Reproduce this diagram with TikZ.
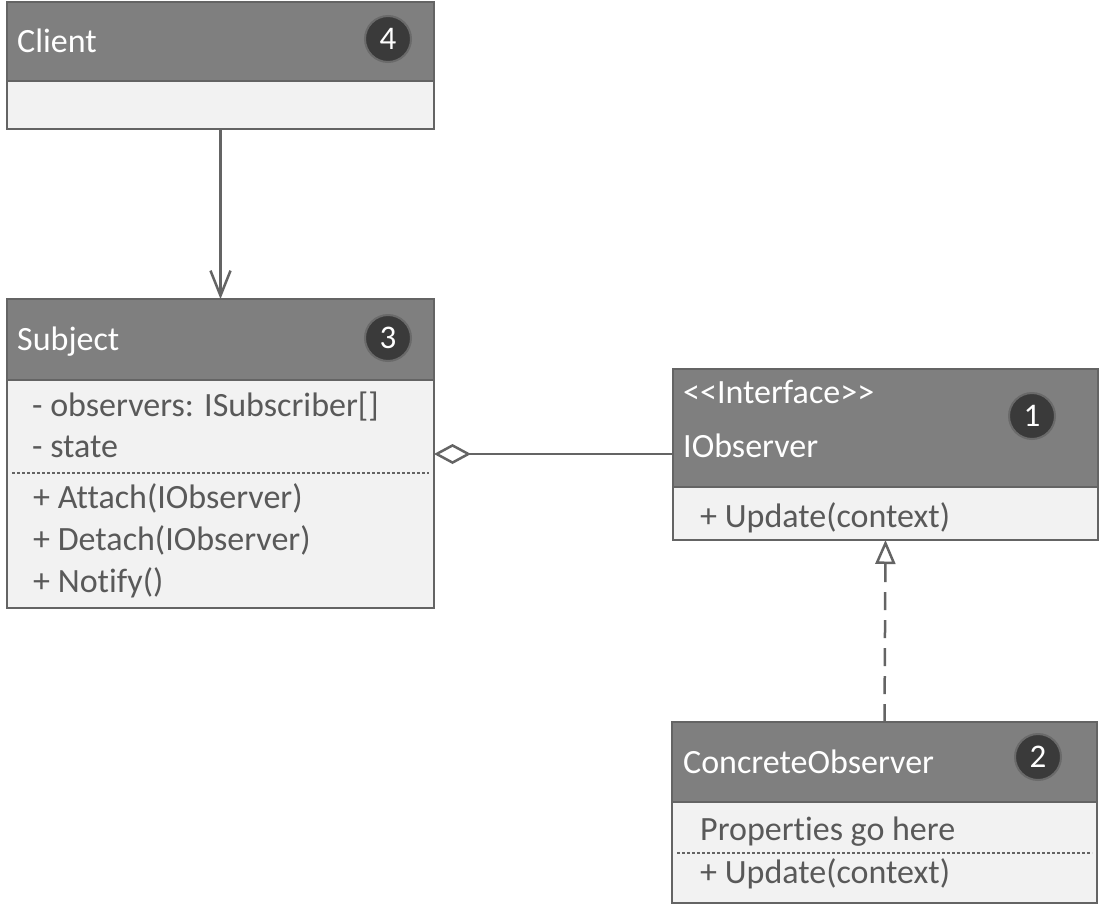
\documentclass[tikz,border=0pt]{standalone}
\usepackage{fontspec}
\setmainfont{Carlito}[Ligatures={NoCommon,NoRare,NoContextual}]
\usetikzlibrary{arrows.meta}
\definecolor{hdr}{HTML}{7F7F7F}
\definecolor{bodyc}{HTML}{F2F2F2}
\definecolor{bord}{HTML}{646464}
\definecolor{txt}{HTML}{595959}
\definecolor{badgec}{HTML}{3A3A3A}
\definecolor{ring}{HTML}{6A6A6A}
\tikzset{
  hdrbox/.style={draw=bord, fill=hdr, line width=2.5pt, anchor=north west, inner sep=0pt, outer sep=0pt},
  bodybox/.style={draw=bord, fill=bodyc, line width=2.5pt, anchor=north west, inner sep=0pt, outer sep=0pt},
  htext/.style={anchor=base west, text=white, font=\fontsize{34}{34}\selectfont, inner sep=0pt},
  btext/.style={anchor=base west, text=txt, font=\fontsize{34}{34}\selectfont, inner sep=0pt},
  badge/.style={circle, fill=badgec, draw=ring, line width=2pt, minimum size=46pt, inner sep=0pt, text=white, font=\fontsize{33}{33}\selectfont},
  sepline/.style={draw=bord, dash pattern=on 3pt off 2pt, line width=1.5pt},
  conn/.style={draw=bord, line width=2.5pt}
}
\begin{document}
\begin{tikzpicture}[x=1pt,y=-1pt]
\useasboundingbox[fill=white] (0,0) rectangle (1101,911);
% Client
\node[bodybox, minimum width=427pt, minimum height=48pt] (clientB) at (7,81) {};
\node[hdrbox, minimum width=427pt, minimum height=79pt] (clientH) at (7,2) {};
\node[htext] (clientT) at (17,52) {Client};
\node[badge] (b4) at (388,39) {4};
% Subject
\node[bodybox, minimum width=427pt, minimum height=228pt] (subjB) at (7,380) {};
\node[hdrbox, minimum width=427pt, minimum height=81pt] (subjH) at (7,299) {};
\node[htext] (subjT) at (17,350) {Subject};
\node[badge] (b3) at (388,338) {3};
\node[btext] (s1) at (32,416) {- observers: ISubscriber[]};
\node[btext] (s2) at (32,457) {- state};
\draw[sepline] ([xshift=5pt]subjB.west |- 0,473) -- ([xshift=-5pt]subjB.east |- 0,473);
\node[btext] (s3) at (33,508) {+ Attach(IObserver)};
\node[btext] (s4) at (33,550) {+ Detach(IObserver)};
\node[btext] (s5) at (33,592) {+ Notify()};
% IObserver
\node[bodybox, minimum width=425pt, minimum height=53pt] (iobsB) at (673,487) {};
\node[hdrbox, minimum width=425pt, minimum height=118pt] (iobsH) at (673,369) {};
\node[htext] (i1) at (683,403) {<{}<Interface>{}>};
\node[htext] (i2) at (683,457) {IObserver};
\node[badge] (b1) at (1032,416) {1};
\node[btext] (i3) at (700,527) {+ Update(context)};
% ConcreteObserver
\node[bodybox, minimum width=425pt, minimum height=101pt] (concB) at (672,802) {};
\node[hdrbox, minimum width=425pt, minimum height=80pt] (concH) at (672,722) {};
\node[htext] (c1) at (683,773) {ConcreteObserver};
\node[badge] (b2) at (1038,757) {2};
\node[btext] (c2) at (700,840) {Properties go here};
\draw[sepline] ([xshift=5pt]concB.west |- 0,853) -- ([xshift=-5pt]concB.east |- 0,853);
\node[btext] (c3) at (700,883) {+ Update(context)};
% connectors
\draw[conn, -{Straight Barb[length=25pt,width=20pt]}] (clientB.south) -- (subjH.north);
\coordinate (aggY) at (0,454);
\draw[conn, {Diamond[open,length=37pt,width=20pt,fill=white]}-] (subjB.east |- aggY) -- (iobsH.west |- aggY);
\draw[conn, dash pattern=on 18pt off 10pt, -{Triangle[open,length=24pt,width=20pt,fill=white]}] (concH.north) -- (iobsB.south);
\end{tikzpicture}
\end{document}
